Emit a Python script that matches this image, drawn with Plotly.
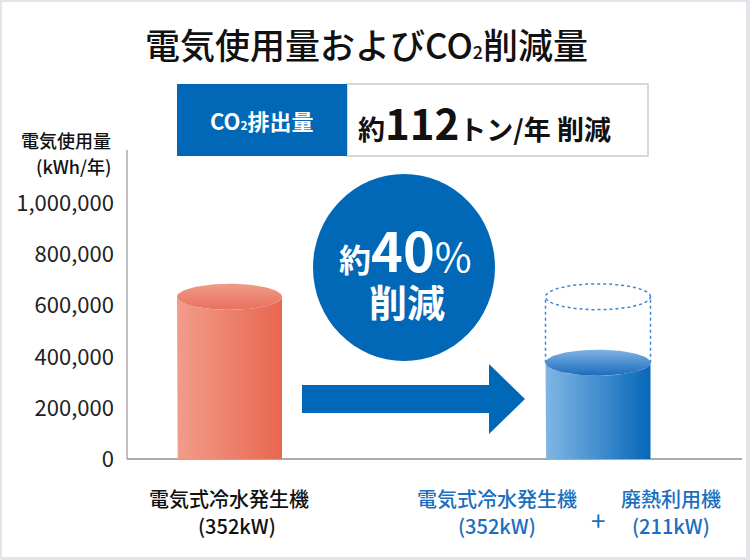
import numpy as np
import plotly.graph_objects as go

# ---------------- data ----------------
categories = ["電気式冷水発生機<br>(352kW)", "電気式冷水発生機<br>(352kW)", "廃熱利用機<br>(211kW)"]
usage_values = [635000, 377000]          # kWh/年 : before, after
tick_values = [0, 200000, 400000, 600000, 800000, 1000000]
tick_labels = ["0", "200,000", "400,000", "600,000", "800,000", "1,000,000"]
co2_reduction = "112"
reduction_pct = "40"

# ---------------- layout constants ----------------
W, H = 750, 560
ML, MR, MT, MB = 127, 8, 150, 101
PW, PH = W - ML - MR, H - MT - MB
BASE_PX = H - MB
PX_PER_M = 255.5                 # pixels per 1,000,000
Y_TOP = PH / PX_PER_M * 1e6
X_C0_PX, X_SCALE = 229.5, 368.5  # pixel of category 0 and pixels per category step
X_MIN = (ML - X_C0_PX) / X_SCALE
X_MAX = (W - MR - X_C0_PX) / X_SCALE

def pxp(px):
    return (px - ML) / PW

def pyp(py):
    return (BASE_PX - py) / PH

HALF_W = 52.5 / X_SCALE
RY = 13 * 1e6 / PX_PER_M

BLUE = "#0068b7"
FONT = "Noto Sans CJK JP"

fig = go.Figure()

def cylinder(xc, val, body_cols, top_cols):
    t = np.linspace(np.pi, 2 * np.pi, 60)
    bx = [xc - HALF_W, xc - HALF_W]
    by = [val, 0]
    bx += list(xc + HALF_W * np.cos(t))
    by += list(0 + RY * np.sin(t))
    bx += [xc + HALF_W]
    by += [val]
    t2 = np.linspace(2 * np.pi, np.pi, 60)
    bx += list(xc + HALF_W * np.cos(t2))
    by += list(val + RY * np.sin(t2))
    fig.add_trace(go.Scatter(
        x=bx, y=by, fill="toself", mode="lines", line=dict(width=0),
        fillgradient=dict(type="horizontal", colorscale=[[0, body_cols[0]], [1, body_cols[1]]]),
        hoverinfo="skip", showlegend=False))
    tt = np.linspace(0, 2 * np.pi, 120)
    fig.add_trace(go.Scatter(
        x=list(xc + HALF_W * np.cos(tt)), y=list(val + RY * np.sin(tt)),
        fill="toself", mode="lines", line=dict(width=0),
        fillgradient=dict(type="vertical", colorscale=[[0, top_cols[0]], [1, top_cols[1]]]),
        hoverinfo="skip", showlegend=False))

cylinder(0, usage_values[0], ("#f29c8a", "#e86750"), ("#e8705e", "#f09c88"))
cylinder(1, usage_values[1], ("#80b6e3", "#0667b9"), ("#1a6cbf", "#7fb3e0"))

# dotted outline of the previous amount on the right cylinder
tt = np.linspace(0, 2 * np.pi, 160)
fig.add_trace(go.Scatter(
    x=list(1 + HALF_W * np.cos(tt)), y=list(usage_values[0] + RY * np.sin(tt)),
    mode="lines", line=dict(color="#3f86cc", width=1.5, dash="dot"),
    hoverinfo="skip", showlegend=False))
for sx in (1 - HALF_W, 1 + HALF_W):
    fig.add_trace(go.Scatter(
        x=[sx, sx], y=[usage_values[1], usage_values[0]],
        mode="lines", line=dict(color="#3f86cc", width=1.5, dash="dot"),
        hoverinfo="skip", showlegend=False))

shapes = []
# frame
shapes.append(dict(type="rect", xref="paper", yref="paper",
                   x0=pxp(2), x1=pxp(746), y0=pyp(557), y1=pyp(2),
                   fillcolor="white", line=dict(width=0), layer="below"))
# baseline and y-axis line
shapes.append(dict(type="line", xref="paper", yref="paper",
                   x0=pxp(ML), x1=pxp(W - MR), y0=0, y1=0,
                   line=dict(color="#aaaaaa", width=2), layer="below"))
shapes.append(dict(type="line", xref="paper", yref="paper",
                   x0=0, x1=0, y0=0, y1=1,
                   line=dict(color="#aaaaaa", width=1.5), layer="below"))
# CO2 box
shapes.append(dict(type="rect", xref="paper", yref="paper",
                   x0=pxp(347), x1=pxp(648), y0=pyp(156), y1=pyp(84),
                   fillcolor="white", line=dict(color="#cccccc", width=1.5)))
shapes.append(dict(type="rect", xref="paper", yref="paper",
                   x0=pxp(177), x1=pxp(347), y0=pyp(156), y1=pyp(84),
                   fillcolor=BLUE, line=dict(width=0)))
# circle
shapes.append(dict(type="circle", xref="paper", yref="paper",
                   x0=pxp(313), x1=pxp(495), y0=pyp(361), y1=pyp(174),
                   fillcolor=BLUE, line=dict(width=0)))
# arrow
ax = [302, 489, 489, 525, 489, 489, 302]
ay = [385, 385, 364, 399, 434, 413, 413]
path = "M " + " L ".join(f"{pxp(a)},{pyp(b)}" for a, b in zip(ax, ay)) + " Z"
shapes.append(dict(type="path", xref="paper", yref="paper", path=path,
                   fillcolor=BLUE, line=dict(width=0)))

ann = []
def A(px, py, text, size, color="#111111", xanchor="center", weight="normal"):
    ann.append(dict(x=pxp(px), y=pyp(py), xref="paper", yref="paper", text=text,
                    showarrow=False, xanchor=xanchor, yanchor="middle",
                    font=dict(family=FONT, size=size, color=color, weight=weight)))

A(366, 43, "電気使用量およびCO<span style='font-size:18px'>2</span>削減量", 35, weight=500)
A(262, 120, "CO<span style='font-size:12px'>2</span>排出量", 22, color="white", weight="bold")
A(356, 122, "約<span style='font-size:42px'>" + co2_reduction + "</span>トン/年 削減", 27,
  xanchor="left", weight="bold")
A(113, 140, "電気使用量", 18, xanchor="right", weight=500)
A(113, 166, "(kWh/年)", 18, xanchor="right", weight=500)
A(405, 248, "約<span style='font-size:54px'>" + reduction_pct + "</span><span style='font-size:40px;font-weight:normal'>%</span>", 32,
  color="white", weight="bold")
A(407, 300, "削減", 38, color="white", weight="bold")

lbl0 = categories[0].split("<br>")
A(229, 498, lbl0[0], 20, weight=500)
A(237, 525, lbl0[1], 20, weight=500)
lbl1 = categories[1].split("<br>")
A(497, 498, lbl1[0], 20, color="#1a6fbf", weight=500)
A(497, 525, lbl1[1], 20, color="#1a6fbf", weight=500)
A(598, 519, "+", 26, color="#1a6fbf", weight="normal")
lbl2 = categories[2].split("<br>")
A(671, 498, lbl2[0], 20, color="#1a6fbf", weight=500)
A(671, 525, lbl2[1], 20, color="#1a6fbf", weight=500)

fig.update_layout(
    width=W, height=H,
    margin=dict(l=ML, r=MR, t=MT, b=MB, pad=0),
    paper_bgcolor="#e2e6eb", plot_bgcolor="rgba(0,0,0,0)",
    shapes=shapes, annotations=ann, showlegend=False,
    xaxis=dict(range=[X_MIN, X_MAX], visible=False, fixedrange=True),
    yaxis=dict(range=[0, Y_TOP], tickvals=tick_values, ticktext=tick_labels,
               showgrid=False, zeroline=False, showline=False, ticks="",
               ticklabelstandoff=12, fixedrange=True,
               tickfont=dict(family=FONT, size=22, color="#222222")),
)

fig.write_html("out.html", config={"displayModeBar": False},
               post_script="document.body.style.margin='0';document.body.style.overflow='hidden';")
